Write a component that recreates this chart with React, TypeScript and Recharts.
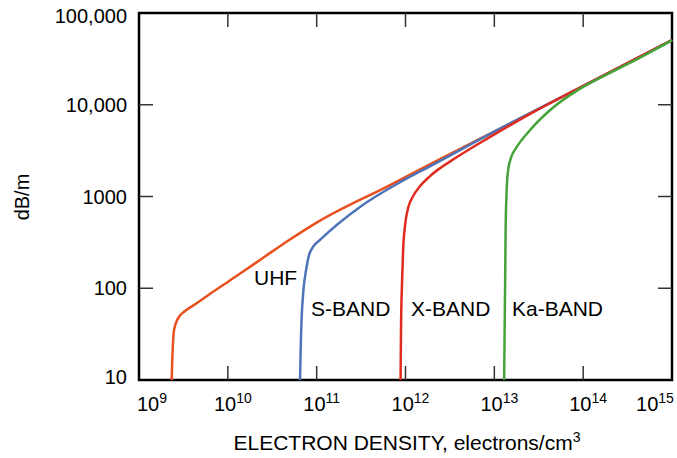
import React from "react";
import { LineChart, Line, XAxis, YAxis, ReferenceArea } from "recharts";

// axis ticks
const xTicks = [1e9, 1e10, 1e11, 1e12, 1e13, 1e14, 1e15];
const xTickExponents = ["9", "10", "11", "12", "13", "14", "15"];
const yTicks = [10, 100, 1000, 10000, 100000];
const yTickLabels = ["10", "100", "1000", "10,000", "100,000"];

// electron density (electrons/cm3) and attenuation (dB/m)
const uhfDensity = [2.33e9, 2.38e9, 2.48e9, 2.75e9, 3.3e9, 4.2e9, 6e9, 9.7e9, 1.5e10, 2.5e10, 5.0e10, 1.0e11, 6.7e11, 1.9e12, 2.53e13, 1e14, 1e15];
const uhfDb = [10, 18.7, 35, 47, 56.5, 66, 84, 115, 153, 215, 340, 520, 1334, 2250, 8070, 16070, 50800];

const sBandDensity = [6.5e10, 6.6e10, 6.76e10, 7.1e10, 7.6e10, 8.2e10, 9.1e10, 1.09e11, 3.1e11, 8.9e11, 2e12, 1e13, 1e14, 1e15];
const sBandDb = [10, 21, 45, 96, 158, 230, 282, 336, 775, 1450, 2200, 5100, 16000, 50800];

const xBandDensity = [8.8e11, 8.9e11, 9.16e11, 9.4e11, 9.9e11, 1.07e12, 1.22e12, 1.46e12, 1.89e12, 3.8e12, 8.97e12, 2.5e13, 1e14, 1e15];
const xBandDb = [10, 35, 123, 261, 490, 750, 1012, 1300, 1670, 2690, 4460, 7900, 16000, 50800];

const kaBandDensity = [1.29e13, 1.306e13, 1.324e13, 1.34e13, 1.377e13, 1.43e13, 1.55e13, 1.76e13, 2.53e13, 4.25e13, 9.25e13, 2e14, 4.07e14, 1e15];
const kaBandDb = [10, 35, 123, 431, 1178, 1945, 2690, 3380, 5310, 8770, 15000, 22300, 31500, 50300];

const toPoints = (xs: number[], ys: number[]) => xs.map((x, i) => ({ x, y: ys[i] }));

const uhf = toPoints(uhfDensity, uhfDb);
const sBand = toPoints(sBandDensity, sBandDb);
const xBand = toPoints(xBandDensity, xBandDb);
const kaBand = toPoints(kaBandDensity, kaBandDb);

const FONT = "'Liberation Sans', Arial, Helvetica, sans-serif";
const PLOT_W = 533;
const PLOT_H = 367;
const TICK = 14;

function XTick(props: any) {
  const { x, y, payload, index } = props;
  const shift = index === 0 ? 13 : index === xTicks.length - 1 ? -17 : 5;
  const inner = index > 0 && index < xTicks.length - 1;
  return (
    <g>
      {inner && (
        <>
          <line x1={x} x2={x} y1={y} y2={y - TICK} stroke="#333" strokeWidth={1.5} />
          <line x1={x} x2={x} y1={y - PLOT_H} y2={y - PLOT_H + TICK} stroke="#333" strokeWidth={1.5} />
        </>
      )}
      <text x={x + shift} y={y + 31} textAnchor="middle" fontSize={20} fontFamily={FONT} fill="#000">
        10
        <tspan dy={-8} fontSize={14}>
          {xTickExponents[index] ?? String(Math.round(Math.log10(payload.value)))}
        </tspan>
      </text>
    </g>
  );
}

function YTick(props: any) {
  const { x, y, index } = props;
  const shift = index === 0 ? -3 : index === yTicks.length - 1 ? 3 : 0;
  const inner = index > 0 && index < yTicks.length - 1;
  return (
    <g>
      {inner && (
        <>
          <line x1={x} x2={x + TICK} y1={y} y2={y} stroke="#333" strokeWidth={1.5} />
          <line x1={x + PLOT_W} x2={x + PLOT_W - TICK} y1={y} y2={y} stroke="#333" strokeWidth={1.5} />
        </>
      )}
      <text x={x - 12} y={y + 7 + shift} textAnchor="end" fontSize={20} fontFamily={FONT} fill="#000">
        {yTickLabels[index]}
      </text>
    </g>
  );
}

const labelStyle = { fontSize: 21, fontFamily: FONT, fill: "#000" };

export default function App() {
  return (
    <div style={{ position: "absolute", left: 0, top: 0, background: "#fff" }}>
      <LineChart width={677} height={458} margin={{ top: 13, right: 5, left: 79, bottom: 48 }}>
        <XAxis
          dataKey="x"
          type="number"
          scale="log"
          domain={[1e9, 1e15]}
          ticks={xTicks}
          interval={0}
          tickSize={0}
          tickMargin={0}
          tickLine={false}
          axisLine={false}
          tick={<XTick />}
          height={30}
          allowDuplicatedCategory={false}
        />
        <YAxis
          dataKey="y"
          type="number"
          scale="log"
          domain={[10, 100000]}
          ticks={yTicks}
          interval={0}
          tickSize={0}
          tickMargin={0}
          tickLine={false}
          axisLine={false}
          tick={<YTick />}
          width={60}
        />
        <ReferenceArea x1={1e9} x2={1e15} y1={10} y2={100000} fill="none" stroke="#000" strokeWidth={2.5} />
        <Line data={uhf} dataKey="y" type="monotone" stroke="#e8501f" strokeWidth={2.5} dot={false} isAnimationActive={false} />
        <Line data={sBand} dataKey="y" type="monotone" stroke="#4e74b8" strokeWidth={2.5} dot={false} isAnimationActive={false} />
        <Line data={xBand} dataKey="y" type="monotone" stroke="#e02b1f" strokeWidth={2.5} dot={false} isAnimationActive={false} />
        <Line data={kaBand} dataKey="y" type="monotone" stroke="#45a33a" strokeWidth={2.5} dot={false} isAnimationActive={false} />
        <text x={254} y={285} {...labelStyle}>UHF</text>
        <text x={311} y={316} {...labelStyle}>S-BAND</text>
        <text x={411} y={316} {...labelStyle}>X-BAND</text>
        <text x={512} y={316} {...labelStyle}>Ka-BAND</text>
        <text x={29} y={197} textAnchor="middle" transform="rotate(-90 29 197)" {...labelStyle} fontSize={20}>dB/m</text>
        <text x={407} y={450} textAnchor="middle" {...labelStyle}>
          ELECTRON DENSITY, electrons/cm
          <tspan dy={-8} fontSize={14}>3</tspan>
        </text>
      </LineChart>
    </div>
  );
}
